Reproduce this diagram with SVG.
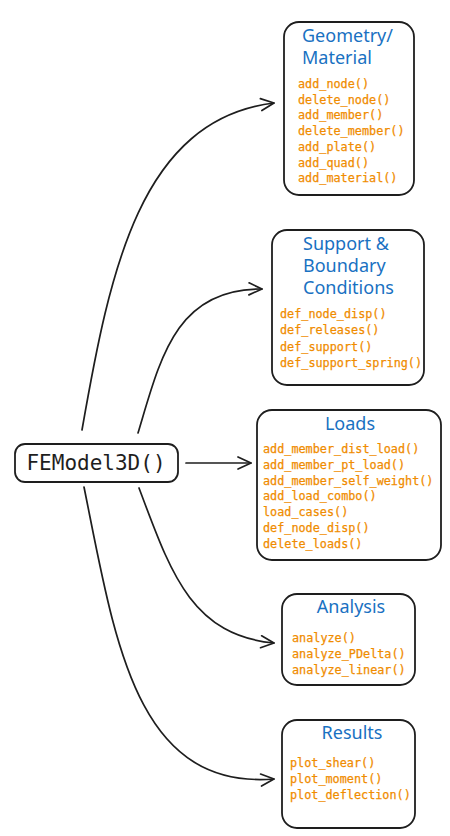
<svg xmlns="http://www.w3.org/2000/svg" width="450" height="836" viewBox="0 0 450 836">
<style>
.box{fill:#fff;stroke:#1e1e1e;stroke-width:1.8}
.title{font-family:"Noto Sans","Liberation Sans",sans-serif;font-size:18px;fill:#1971c2}
.mid{text-anchor:middle}
.code{font-family:"DejaVu Sans Mono","Liberation Mono",monospace;font-size:11.8px;fill:#f08c00;stroke:#f08c00;stroke-width:0.25}
.main{font-family:"DejaVu Sans Mono","Liberation Mono",monospace;font-size:21px;fill:#1e1e1e}
.conn{fill:none;stroke:#1e1e1e;stroke-width:1.7;stroke-linecap:round}
</style>
<defs>
<marker id="ah" markerUnits="userSpaceOnUse" markerWidth="20" markerHeight="20" refX="0" refY="0" viewBox="-15 -10 20 20" orient="auto">
<path d="M-13,-6 L0,0 L-13,6" fill="none" stroke="#1e1e1e" stroke-width="1.7" stroke-linecap="round" stroke-linejoin="round"/>
</marker>
</defs>
<rect width="450" height="836" fill="#fff"/>
<g id="connectors">
<path class="conn" marker-end="url(#ah)" d="M82,430 C110,270 140,120 274,103"/>
<path class="conn" marker-end="url(#ah)" d="M138,433 C160,360 175,288 262,289"/>
<path class="conn" marker-end="url(#ah)" d="M186,463 L251,463"/>
<path class="conn" marker-end="url(#ah)" d="M139,488 C170,570 190,635 274,643"/>
<path class="conn" marker-end="url(#ah)" d="M84,487 C115,640 135,790 274,779"/>
</g>
<g id="main">
<rect class="box" x="15" y="444" width="163" height="38" rx="10"/>
<text class="main mid" x="96" y="470">FEModel3D()</text>
</g>
<g id="geometry">
<rect class="box" x="284" y="22" width="130" height="173" rx="15"/>
<text class="title" x="302" y="42">Geometry/</text>
<text class="title" x="302" y="64">Material</text>
<text class="code" x="298" y="88">add_node()</text>
<text class="code" x="298" y="103.7">delete_node()</text>
<text class="code" x="298" y="119.4">add_member()</text>
<text class="code" x="298" y="135.1">delete_member()</text>
<text class="code" x="298" y="150.8">add_plate()</text>
<text class="code" x="298" y="166.5">add_quad()</text>
<text class="code" x="298" y="182.2">add_material()</text>
</g>
<g id="support">
<rect class="box" x="272" y="230" width="152" height="155" rx="15"/>
<text class="title" x="303" y="250">Support &amp;</text>
<text class="title" x="303" y="272">Boundary</text>
<text class="title" x="303" y="294">Conditions</text>
<text class="code" x="280" y="318">def_node_disp()</text>
<text class="code" x="280" y="334.3">def_releases()</text>
<text class="code" x="280" y="350.6">def_support()</text>
<text class="code" x="280" y="367">def_support_spring()</text>
</g>
<g id="loads">
<rect class="box" x="257" y="410" width="184" height="150" rx="15"/>
<text class="title mid" x="350" y="430">Loads</text>
<text class="code" x="263" y="453">add_member_dist_load()</text>
<text class="code" x="263" y="468.8">add_member_pt_load()</text>
<text class="code" x="263" y="484.6">add_member_self_weight()</text>
<text class="code" x="263" y="500.4">add_load_combo()</text>
<text class="code" x="263" y="516.2">load_cases()</text>
<text class="code" x="263" y="532">def_node_disp()</text>
<text class="code" x="263" y="547.8">delete_loads()</text>
</g>
<g id="analysis">
<rect class="box" x="282" y="594" width="133" height="91" rx="15"/>
<text class="title mid" x="351" y="613">Analysis</text>
<text class="code" x="292" y="642">analyze()</text>
<text class="code" x="292" y="658">analyze_PDelta()</text>
<text class="code" x="292" y="674">analyze_linear()</text>
</g>
<g id="results">
<rect class="box" x="282" y="720" width="133" height="108" rx="15"/>
<text class="title mid" x="352" y="739">Results</text>
<text class="code" x="290" y="767">plot_shear()</text>
<text class="code" x="290" y="783">plot_moment()</text>
<text class="code" x="290" y="799">plot_deflection()</text>
</g>
</svg>
